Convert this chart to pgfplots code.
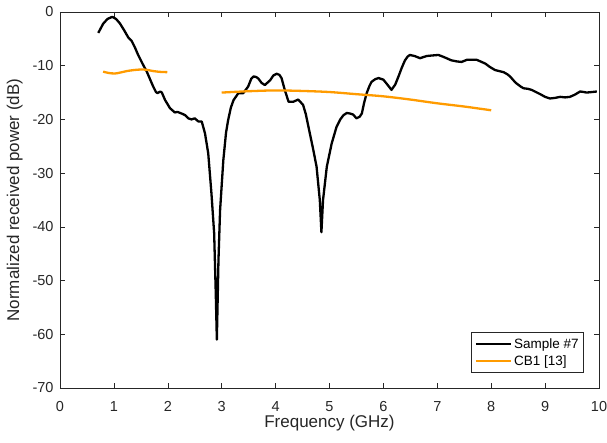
\documentclass[border=0pt]{standalone}
\usepackage{pgfplots}
\pgfplotsset{compat=1.18}
\usepackage{fontspec}
\setmainfont{Liberation Sans}
\definecolor{cborange}{RGB}{255,155,0}
\definecolor{axgray}{RGB}{38,38,38}
\begin{document}
\begin{tikzpicture}
\useasboundingbox (-60pt,-55pt) rectangle (547pt,388pt);
\begin{axis}[
  scale only axis, width=539pt, height=376pt,
  xmin=0, xmax=10, ymin=-70, ymax=0,
  xtick={0,1,...,10}, ytick={-70,-60,...,0},
  tick align=inside, tick pos=both,
  major tick length=5pt,
  axis line style={axgray, line width=0.6pt},
  every tick/.style={axgray, line width=0.6pt},
  tick label style={font=\fontsize{14.5}{16}\selectfont, text=axgray},
  xticklabel style={anchor=base, yshift=-24pt},
  yticklabel style={xshift=-3pt},
  /pgf/number format/assume math mode=true,
  xlabel={Frequency (GHz)}, ylabel={Normalized received power (dB)},
  label style={font=\fontsize{17}{19}\selectfont, text=axgray},
  xlabel style={at={(axis description cs:0.5,0)}, anchor=base, yshift=-40pt},
  ylabel style={yshift=3pt},
  unbounded coords=jump,
  legend style={at={(0.972,0.040)}, anchor=south east, font=\fontsize{13.5}{15}\selectfont,
    draw=axgray, line width=0.6pt, row sep=1.7pt, inner ysep=4pt, inner xsep=3pt},
  legend cell align=left,
  legend image code/.code={\draw[#1, line width=2.5pt] (0pt,0pt) -- (35pt,0pt);},
]
\addplot[black, line width=2.3pt, line join=round] coordinates {
(0.71,-3.9) (0.80,-2.2) (0.88,-1.3) (0.97,-0.9) (1.04,-1.3) (1.11,-2.1) (1.19,-3.4)
(1.27,-4.8) (1.33,-5.4) (1.39,-6.6) (1.45,-8.0) (1.53,-9.6) (1.61,-11.1) (1.67,-12.5)
(1.73,-13.9) (1.78,-14.9) (1.81,-15.1) (1.86,-14.8) (1.89,-15.0) (1.95,-16.4) (2.04,-17.9)
(2.13,-18.7) (2.18,-18.6) (2.23,-18.8) (2.28,-19.0) (2.32,-19.2) (2.38,-19.8) (2.44,-20.0)
(2.50,-19.8) (2.57,-20.4) (2.63,-20.4) (2.69,-22.6) (2.75,-26.3) (2.81,-33.8) (2.86,-41.2)
(2.89,-52.4) (2.91,-61.0) (2.94,-46.2) (2.97,-36.9) (3.03,-27.6) (3.08,-22.5) (3.12,-20.1)
(3.17,-17.8) (3.22,-16.4) (3.31,-15.1) (3.40,-15.1) (3.49,-13.9) (3.55,-12.4) (3.59,-12.0)
(3.64,-12.1) (3.68,-12.4) (3.74,-13.2) (3.80,-13.6) (3.90,-12.7) (3.96,-11.8) (4.02,-11.5)
(4.07,-11.7) (4.11,-12.3) (4.17,-14.5) (4.24,-16.7) (4.33,-16.7) (4.42,-16.3) (4.51,-17.3)
(4.56,-19.0) (4.61,-21.4) (4.70,-25.7) (4.76,-28.8) (4.82,-35.0) (4.85,-41.0) (4.88,-35.0)
(4.95,-28.8) (5.04,-24.5) (5.13,-21.4) (5.20,-20.0) (5.26,-19.2) (5.32,-18.8) (5.38,-18.9)
(5.44,-19.1) (5.50,-19.8) (5.56,-19.5) (5.60,-18.9) (5.64,-17.0) (5.69,-15.1) (5.74,-13.8)
(5.78,-13.0) (5.85,-12.5) (5.91,-12.3) (6.00,-12.6) (6.08,-13.6) (6.15,-14.5) (6.22,-13.5)
(6.28,-12.0) (6.34,-10.4) (6.40,-9.0) (6.45,-8.3) (6.49,-8.0) (6.58,-8.2) (6.68,-8.6)
(6.80,-8.2) (6.90,-8.1) (7.02,-8.0) (7.10,-8.3) (7.17,-8.6) (7.26,-9.0) (7.36,-9.2)
(7.45,-9.3) (7.55,-8.9) (7.65,-8.9) (7.73,-8.9) (7.80,-9.2) (7.89,-9.6) (7.97,-10.2)
(8.07,-10.8) (8.15,-11.0) (8.23,-11.2) (8.30,-11.6) (8.35,-12.0) (8.42,-12.8) (8.47,-13.3)
(8.55,-13.9) (8.60,-14.2) (8.68,-14.3) (8.75,-14.5) (8.83,-14.9) (8.91,-15.3) (9.00,-15.8)
(9.09,-16.1) (9.18,-16.0) (9.28,-15.8) (9.37,-15.9) (9.46,-15.8) (9.55,-15.4) (9.65,-14.8)
(9.72,-14.9) (9.77,-15.0) (9.87,-14.9) (9.96,-14.8)
};
\addlegendentry{Sample \#7}
\addplot[cborange, line width=2.3pt, smooth] coordinates {
(0.80,-11.1) (0.90,-11.35) (1.02,-11.45) (1.13,-11.25) (1.24,-11.0) (1.38,-10.8)
(1.52,-10.7) (1.63,-10.8) (1.73,-11.0) (1.86,-11.15) (1.99,-11.2)
(2.5,nan)
(3.0,-15.0) (3.5,-14.75) (4.0,-14.6) (4.5,-14.7) (5.0,-14.9) (5.5,-15.3) (6.0,-15.7)
(6.5,-16.3) (7.0,-17.0) (7.5,-17.6) (8.0,-18.3)
};
\addlegendentry{CB1 [13]}
\end{axis}
\end{tikzpicture}
\end{document}
